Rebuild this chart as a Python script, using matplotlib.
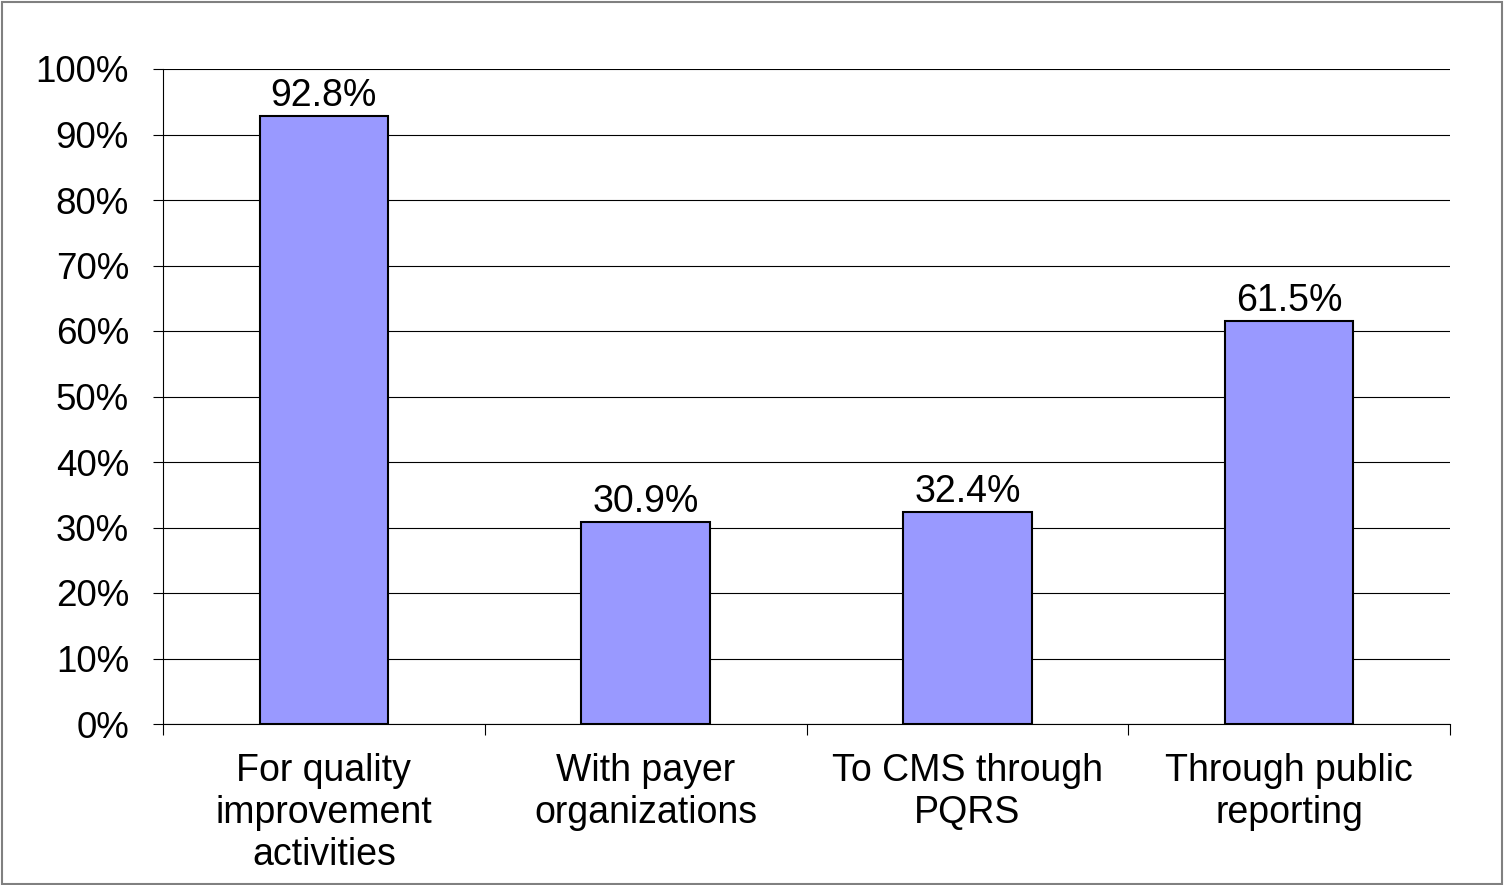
import matplotlib
matplotlib.use("Agg")
import matplotlib.pyplot as plt
from matplotlib.patches import Rectangle
from matplotlib.ticker import FixedLocator

categories = ["For quality\nimprovement\nactivities", "With payer\norganizations",
              "To CMS through\nPQRS", "Through public\nreporting"]
values = [92.8, 30.9, 32.4, 61.5]
yticks = [0, 10, 20, 30, 40, 50, 60, 70, 80, 90, 100]
ytick_labels = [f"{t}%" for t in yticks]

plt.rcParams['font.family'] = ['Liberation Sans', 'DejaVu Sans']

fig = plt.figure(figsize=(15.05, 8.85), dpi=100)
ax = fig.add_axes([163/1505, 1-724/885, (1450-163)/1505, (724-69)/885])

x = list(range(len(categories)))
bars = ax.bar(x, values, width=0.40, color="#9999FF", edgecolor="black", linewidth=1.5, zorder=3)
for xi, v in zip(x, values):
    ax.text(xi, v + 0.3, f"{v}%", ha="center", va="bottom", fontsize=27, zorder=4)

ax.set_xlim(-0.5, 3.5)
ax.set_ylim(0, 100)
ax.set_yticks(yticks)
ax.set_yticklabels(ytick_labels, fontsize=26.5)
ax.yaxis.grid(True, color="black", linewidth=0.8, zorder=0)
ax.set_axisbelow(True)

ax.set_xticks(x)
ax.set_xticklabels(categories, fontsize=27, linespacing=1.22)
ax.xaxis.set_minor_locator(FixedLocator([-0.5, 0.5, 1.5, 2.5, 3.5]))
ax.tick_params(axis="x", which="major", length=0, pad=21)
ax.tick_params(axis="x", which="minor", length=8, width=0.8, direction="out")
ax.tick_params(axis="y", which="major", length=7.5, width=0.8, direction="out", pad=17)

for s in ["top", "right"]:
    ax.spines[s].set_visible(False)
ax.spines["left"].set_linewidth(0.8)
ax.spines["bottom"].set_linewidth(0.8)

fig.patches.append(Rectangle((0.001, 0.001), 0.997, 0.997, transform=fig.transFigure,
                             fill=False, edgecolor="#808080", linewidth=1.5))

fig.savefig("out.png", dpi=100)
